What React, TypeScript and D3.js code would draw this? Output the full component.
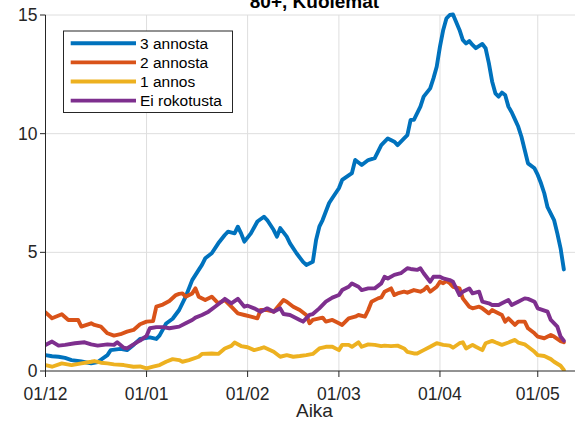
import React from "react";
import * as d3 from "d3";

// ---- data (day offset from START, value) ----
const START = "2021-12-01";
const END = "2022-05-15";
const monthTicks = ["2021-12-01", "2022-01-01", "2022-02-01", "2022-03-01", "2022-04-01", "2022-05-01"];
const monthTickLabels = ["01/12", "01/01", "01/02", "01/03", "01/04", "01/05"];
const yTicks = [0, 5, 10, 15];
const seriesNames = ["3 annosta", "2 annosta", "1 annos", "Ei rokotusta"];
const seriesColors = ["#0072BD", "#D95319", "#EDB120", "#7E2F8E"];
const titleText = "80+, Kuolemat";
const xLabelText = "Aika";

const threeDoses: [number, number][] = [[0,0.67],[2,0.62],[4,0.6],[6,0.55],[8,0.46],[11,0.4],[14,0.32],[16,0.38],[19,0.67],[20,0.88],[23,0.93],[25,0.88],[27,1.1],[29,1.35],[32,1.42],[34,1.35],[35,1.5],[37,2.0],[39,2.2],[41,2.57],[43,3.13],[45,3.83],[47,4.26],[48,4.47],[49,4.75],[51,4.96],[53,5.38],[55,5.73],[56,5.87],[58,5.8],[59,6.08],[60,5.8],[61,5.45],[63,5.8],[65,6.3],[67,6.5],[68,6.36],[70,5.94],[71,5.66],[72,6.02],[74,5.66],[75,5.38],[77,4.96],[79,4.6],[80,4.47],[82,4.6],[83,5.52],[84,6.08],[85,6.36],[87,7.08],[88,7.29],[90,7.7],[91,8.05],[94,8.34],[95,8.89],[97,8.68],[99,8.89],[101,8.97],[103,9.52],[105,9.8],[107,9.66],[108,9.52],[110,9.8],[111,9.94],[112,10.58],[113,10.58],[115,11.14],[116,11.56],[118,11.91],[119,12.33],[120,12.82],[121,13.67],[122,14.37],[123,14.86],[124,15.0],[125,15.02],[127,14.37],[128,13.95],[129,13.8],[130,13.9],[131,13.74],[132,13.6],[134,13.78],[135,13.6],[136,12.97],[137,12.2],[138,11.7],[139,11.56],[140,11.73],[141,11.63],[142,11.14],[143,10.9],[144,10.6],[145,10.3],[146,9.87],[147,9.31],[148,8.75],[150,8.54],[151,8.26],[152,7.91],[153,7.49],[154,6.9],[156,6.36],[157,5.8],[158,5.17],[159,4.28]];

const twoDoses: [number, number][] = [[0,2.47],[2,2.22],[5,2.39],[7,2.15],[10,2.15],[11,1.87],[14,2.01],[15,1.94],[17,1.87],[19,1.59],[21,1.49],[23,1.55],[25,1.66],[27,1.73],[29,1.97],[31,2.08],[33,2.1],[34,2.71],[36,2.8],[38,2.95],[40,3.2],[41,3.25],[42,3.27],[43,3.13],[45,3.27],[46,3.48],[47,3.13],[49,2.99],[51,3.13],[53,2.85],[55,2.99],[57,2.71],[59,2.43],[61,2.36],[63,2.29],[65,2.22],[66,2.57],[68,2.57],[70,2.5],[73,2.99],[74,2.92],[76,2.71],[78,2.57],[80,2.36],[81,2.01],[82,2.15],[85,2.25],[86,2.08],[88,2.15],[90,2.01],[91,1.94],[93,2.22],[95,2.29],[96,2.36],[98,2.29],[99,2.57],[100,2.92],[102,3.06],[103,3.1],[104,3.34],[106,3.48],[107,3.2],[108,3.27],[110,3.34],[111,3.3],[113,3.41],[115,3.34],[116,3.41],[117,3.55],[118,3.34],[120,3.55],[121,3.76],[122,3.7],[123,3.8],[124,3.7],[125,3.55],[127,3.48],[128,3.06],[130,2.71],[131,2.64],[133,2.71],[134,2.64],[136,2.43],[137,2.57],[138,2.5],[140,2.36],[141,2.08],[142,2.22],[144,1.94],[145,2.08],[147,2.08],[148,1.8],[150,1.59],[151,1.45],[153,1.38],[155,1.52],[156,1.45],[158,1.26],[159,1.21]];

const oneDose: [number, number][] = [[0,0.25],[2,0.18],[5,0.32],[8,0.25],[11,0.32],[14,0.39],[15,0.42],[17,0.35],[19,0.32],[21,0.28],[24,0.25],[27,0.18],[29,0.19],[31,0.11],[33,0.18],[35,0.25],[37,0.39],[39,0.5],[41,0.46],[42,0.39],[44,0.46],[47,0.6],[48,0.72],[51,0.74],[53,0.72],[55,0.95],[57,1.06],[58,1.2],[60,1.05],[62,1.0],[64,0.88],[66,0.95],[67,1.0],[70,0.81],[72,0.6],[74,0.67],[76,0.6],[78,0.63],[80,0.67],[82,0.72],[84,0.95],[86,1.02],[88,1.02],[90,0.88],[91,1.1],[93,1.1],[94,1.02],[96,1.21],[97,1.02],[99,1.12],[101,1.1],[103,1.05],[104,1.07],[106,1.05],[108,1.07],[110,0.95],[111,0.81],[113,0.74],[114,0.74],[116,0.88],[118,1.02],[120,1.17],[122,1.1],[124,1.07],[125,0.98],[127,1.17],[128,1.21],[129,0.95],[131,1.1],[132,1.02],[134,0.88],[135,1.17],[137,1.27],[138,1.21],[140,1.1],[142,1.2],[144,1.31],[145,1.2],[147,1.12],[148,1.02],[150,0.81],[151,0.67],[153,0.63],[155,0.5],[156,0.39],[158,0.22],[159,0.04]];

const unvaccinated: [number, number][] = [[0,1.1],[2,1.24],[4,1.07],[6,1.1],[9,1.17],[12,1.21],[14,1.12],[16,1.07],[19,1.12],[21,1.1],[22,1.21],[24,0.98],[25,0.95],[28,1.21],[29,1.28],[31,1.48],[32,1.8],[34,1.85],[36,1.85],[38,1.8],[41,1.87],[43,2.01],[45,2.15],[46,2.25],[48,2.36],[50,2.5],[52,2.71],[54,2.92],[55,3.04],[57,2.85],[59,3.04],[61,2.71],[62,2.75],[64,2.64],[66,2.5],[68,2.64],[70,2.5],[72,2.64],[73,2.4],[75,2.36],[78,2.15],[79,2.08],[81,2.36],[82,2.4],[84,2.64],[86,2.92],[88,3.09],[90,3.2],[91,3.41],[93,3.55],[94,3.69],[96,3.55],[97,3.41],[99,3.48],[101,3.48],[103,3.69],[104,3.97],[105,3.9],[107,4.05],[109,4.12],[111,4.33],[112,4.3],[114,4.26],[115,4.33],[116,4.12],[118,3.76],[119,3.97],[121,3.97],[122,3.9],[124,3.83],[125,3.76],[127,3.2],[128,3.34],[130,3.48],[131,3.27],[133,3.34],[134,2.92],[136,2.85],[137,2.78],[139,2.78],[140,2.85],[142,2.99],[143,2.78],[145,2.92],[147,3.06],[148,3.04],[150,2.92],[151,2.64],[154,2.5],[155,2.15],[157,1.87],[158,1.45],[159,1.28]];

const allSeries = [threeDoses, twoDoses, oneDose, unvaccinated];

// ---- layout ----
const W = 575;
const H = 421;
const PL = 45.5;
const PR = 583.4;
const PT = 15;
const PB = 371;
const FONT = "'Liberation Sans', Arial, Helvetica, sans-serif";
const AXIS = "#262626";

export default function App() {
  const start = new Date(START + "T00:00:00Z");
  const end = new Date(END + "T00:00:00Z");
  const x = d3.scaleUtc().domain([start, end]).range([PL, PR]);
  const y = d3.scaleLinear().domain([0, 15]).range([PB, PT]);
  const line = d3
    .line<[number, number]>()
    .x((d) => x(d3.utcDay.offset(start, d[0])))
    .y((d) => y(d[1]));
  const ticks = monthTicks.map((s) => new Date(s + "T00:00:00Z"));
  const cx = (PL + PR) / 2;

  const legendX = 63.5;
  const legendY = 31;
  const legendRow = 19.1;

  return (
    <svg
      width={W}
      height={H}
      style={{ position: "absolute", left: 0, top: 0, background: "#fff" }}
      fontFamily={FONT}
    >
      <defs>
        <clipPath id="plotclip">
          <rect x={PL} y={PT - 3} width={PR - PL} height={PB - PT + 3} />
        </clipPath>
      </defs>
      <rect x={0} y={0} width={W} height={H} fill="#fff" />
      {/* grid */}
      {ticks.slice(1).map((t, i) => (
        <line key={"gx" + i} x1={x(t)} x2={x(t)} y1={PT} y2={PB} stroke="#dedede" strokeWidth={1} />
      ))}
      {yTicks.slice(1).map((v) => (
        <line key={"gy" + v} x1={PL} x2={PR} y1={y(v)} y2={y(v)} stroke="#dedede" strokeWidth={1} />
      ))}
      {/* series */}
      <g clipPath="url(#plotclip)">
        {allSeries.map((s, i) => (
          <path
            key={i}
            d={line(s) || ""}
            fill="none"
            stroke={seriesColors[i]}
            strokeWidth={3.9}
            strokeLinejoin="round"
            strokeLinecap="round"
          />
        ))}
      </g>
      {/* axes */}
      <line x1={PL} x2={PR} y1={PB} y2={PB} stroke={AXIS} strokeWidth={1} />
      <line x1={PL} x2={PL} y1={PT} y2={PB} stroke={AXIS} strokeWidth={1} />
      {ticks.map((t, i) => (
        <g key={"xt" + i}>
          <line x1={x(t)} x2={x(t)} y1={PB} y2={PB + 6} stroke={AXIS} strokeWidth={1} />
          <text x={x(t)} y={400} textAnchor="middle" fontSize={17.5} fill={AXIS}>
            {monthTickLabels[i]}
          </text>
        </g>
      ))}
      {yTicks.map((v) => (
        <g key={"yt" + v}>
          <line x1={PL - 5.5} x2={PL} y1={y(v)} y2={y(v)} stroke={AXIS} strokeWidth={1} />
          <text x={37.5} y={y(v)} dy="0.35em" textAnchor="end" fontSize={17.5} fill={AXIS}>
            {v}
          </text>
        </g>
      ))}
      <text x={cx} y={417} textAnchor="middle" fontSize={19} fill={AXIS}>
        {xLabelText}
      </text>
      <text x={cx} y={8} textAnchor="middle" fontSize={19} fontWeight="bold" fill="#000">
        {titleText}
      </text>
      {/* legend */}
      <rect x={legendX} y={legendY} width={169} height={81.5} fill="#fff" stroke={AXIS} strokeWidth={1} />
      {seriesNames.map((n, i) => {
        const ry = 43.3 + i * legendRow;
        return (
          <g key={"lg" + i}>
            <line x1={70.7} x2={136} y1={ry} y2={ry} stroke={seriesColors[i]} strokeWidth={3.9} />
            <text x={140} y={ry} dy="0.36em" fontSize={15.5} fill="#000">
              {n}
            </text>
          </g>
        );
      })}
    </svg>
  );
}
